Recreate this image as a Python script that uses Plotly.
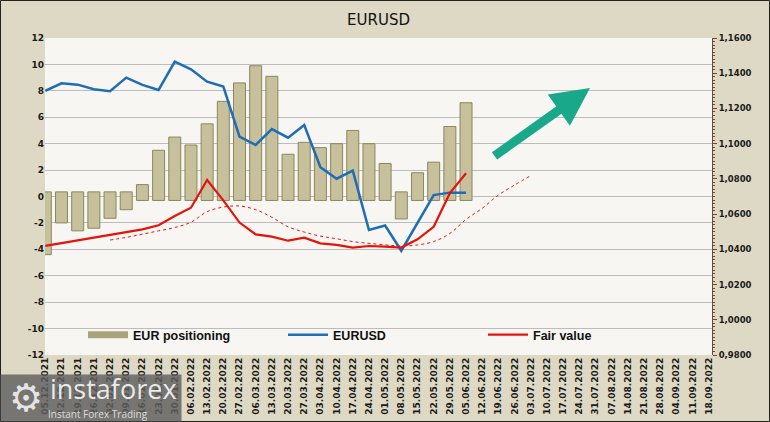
import plotly.graph_objects as go

dates = ["05.12.2021", "12.12.2021", "19.12.2021", "26.12.2021", "02.01.2022", "09.01.2022",
         "16.01.2022", "23.01.2022", "30.01.2022", "06.02.2022", "13.02.2022", "20.02.2022",
         "27.02.2022", "06.03.2022", "13.03.2022", "20.03.2022", "27.03.2022", "03.04.2022",
         "10.04.2022", "17.04.2022", "24.04.2022", "01.05.2022", "08.05.2022", "15.05.2022",
         "22.05.2022", "29.05.2022", "05.06.2022", "12.06.2022", "19.06.2022", "26.06.2022",
         "03.07.2022", "10.07.2022", "17.07.2022", "24.07.2022", "31.07.2022", "07.08.2022",
         "14.08.2022", "21.08.2022", "28.08.2022", "04.09.2022", "11.09.2022", "18.09.2022"]

eur_positioning = [-4.4, -2.0, -2.6, -2.4, -1.65, -1.0, 0.9, 3.5, 4.5, 3.9, 5.5, 7.2, 8.6,
                   9.9, 9.1, 3.2, 4.1, 3.7, 4.0, 5.0, 4.0, 2.5, -1.7, 1.8, 2.6, 5.3, 7.1]

eurusd = [1.1300, 1.1343, 1.1335, 1.1309, 1.1298, 1.1375, 1.1334, 1.1305, 1.1466, 1.1422,
          1.1352, 1.1324, 1.1040, 1.0993, 1.1083, 1.1034, 1.1106, 1.0866, 1.0801, 1.0847,
          1.0510, 1.0535, 1.0392, 1.0550, 1.0708, 1.0722, 1.0722]

fair_value = [1.0420, 1.0436, 1.0451, 1.0467, 1.0482, 1.0498, 1.0513, 1.0537, 1.0589, 1.0636,
              1.0794, 1.0678, 1.0552, 1.0485, 1.0472, 1.0449, 1.0466, 1.0434, 1.0425, 1.0410,
              1.0419, 1.0415, 1.0410, 1.0457, 1.0528, 1.0719, 1.0832]

fair_value_trend = [None, None, None, None,
                    1.0453, 1.0468, 1.0486, 1.0505, 1.0524, 1.0554, 1.0614, 1.0640, 1.0646,
                    1.0625, 1.0582, 1.0528, 1.0498, 1.0475, 1.0460, 1.0444, 1.0434, 1.0425,
                    1.0419, 1.0425, 1.0444, 1.0490, 1.0570, 1.0633, 1.0708, 1.0765, 1.0818]

left_ticks = list(range(-12, 13, 2))

# style constants
BAR_FILL = "#c7c19b"
BAR_EDGE = "#8b865f"
BLUE = "#1f6db5"
RED = "#e3140c"
TEAL = "#1aa88a"
CAP_POS, CAP_NEG = -0.3, 0.35  # 3D-bevel look: bars start slightly past zero

W, H = 770, 422
ML, MR, MT, MB = 45, 58, 38, 67
PW, PH = W - ML - MR, H - MT - MB


def px_x(x):
    return (x - ML) / PW


def px_y(y):
    return (H - MB - y) / PH


bases = [CAP_NEG if v < 0 else CAP_POS for v in eur_positioning]

fig = go.Figure()
fig.add_trace(go.Bar(
    x=dates[:len(eur_positioning)],
    y=[v - b for v, b in zip(eur_positioning, bases)],
    base=bases, width=0.74, name="EUR positioning", showlegend=False,
    marker=dict(color=BAR_FILL, line=dict(color=BAR_EDGE, width=1)),
))
# legend swatch for the bars (flat wide bar)
fig.add_trace(go.Scatter(x=[None], y=[None], mode="lines", name="EUR positioning",
                         line=dict(color="#a9a37c", width=7)))
fig.add_trace(go.Scatter(x=dates[:len(fair_value_trend)], y=fair_value_trend, yaxis="y2",
                         mode="lines", line=dict(color=RED, width=1, dash="dot", shape="spline"),
                         showlegend=False, connectgaps=False))
fig.add_trace(go.Scatter(x=dates[:len(eurusd)], y=eurusd, yaxis="y2", mode="lines",
                         name="EURUSD", line=dict(color=BLUE, width=2.5)))
fig.add_trace(go.Scatter(x=dates[:len(fair_value)], y=fair_value, yaxis="y2", mode="lines",
                         name="Fair value", line=dict(color=RED, width=2.2)))

tick_font = dict(family="DejaVu Sans", size=9, color="#1a1a1a", weight="bold")

fig.update_layout(
    width=W, height=H,
    margin=dict(l=ML, r=MR, t=MT, b=MB, autoexpand=False),
    paper_bgcolor="#ddd9c4",
    plot_bgcolor="#f7f6f2",
    separators=",.",
    title=dict(text="EURUSD", x=0.5, xref="paper", xanchor="center",
               y=1 - 19.5 / H, yref="container", yanchor="middle",
               font=dict(family="DejaVu Sans", size=15, color="#111111")),
    xaxis=dict(type="category", categoryorder="array", categoryarray=dates,
               range=[-0.02, 41.2], tickangle=-90, tickfont=tick_font,
               showgrid=False, zeroline=False, showline=False, ticks=""),
    yaxis=dict(range=[-12, 12], tickmode="array", tickvals=left_ticks,
               ticktext=[str(v) for v in left_ticks], tickfont=tick_font,
               showgrid=True, gridcolor="#bcbcbc", gridwidth=1, zeroline=False,
               showline=False, ticks=""),
    yaxis2=dict(overlaying="y", side="right", range=[0.98, 1.16], tickmode="linear",
                tick0=0.98, dtick=0.02, tickformat=".4f",
                tickfont=dict(family="DejaVu Sans", size=8.5, color="#1a1a1a", weight="bold"),
                showgrid=False, zeroline=False, showline=True, linecolor="#6b4a3a",
                linewidth=1, ticks="outside", ticklen=4, tickcolor="#6b4a3a",
                minor=dict(ticks="outside", ticklen=2, dtick=0.002, tickcolor="#6b4a3a")),
    legend=dict(orientation="h", x=0.057, xanchor="left",
                y=px_y(335), yanchor="middle",
                bgcolor="rgba(0,0,0,0)", itemwidth=40,
                entrywidth=145, entrywidthmode="pixels",
                font=dict(family="Liberation Sans", size=12.5, color="#111111", weight="bold")),
    showlegend=True,
)

# green arrow
fig.add_annotation(x=px_x(590), y=px_y(88), xref="paper", yref="paper",
                   ax=-97, ay=69, axref="pixel", ayref="pixel", text="", showarrow=True,
                   arrowhead=2, arrowsize=0.85, arrowwidth=9, arrowcolor=TEAL)

# outer frame
fig.add_shape(type="rect", xref="paper", yref="paper",
              x0=px_x(0.5), x1=px_x(W - 0.5), y0=px_y(H - 0.5), y1=px_y(0.5),
              line=dict(color="#222222", width=1), layer="above")

# watermark (box drawn as an annotation so the texts sit on top of it)
fig.add_annotation(x=px_x(0), y=px_y(422), xref="paper", yref="paper",
                   xanchor="left", yanchor="bottom", text="", showarrow=False,
                   width=180, height=46, bgcolor="rgba(95,95,95,0.82)", borderpad=0)
fig.add_annotation(x=px_x(26), y=px_y(398), xref="paper", yref="paper",
                   xanchor="center", yanchor="middle",
                   text="⚙", showarrow=False, font=dict(family="DejaVu Sans", size=38,
                   color="rgba(240,240,240,0.92)"))
fig.add_annotation(x=px_x(113), y=px_y(388), xref="paper", yref="paper",
                   xanchor="center", yanchor="middle", borderpad=0,
                   text="instaforex", showarrow=False,
                   font=dict(family="Open Sans", size=27, color="rgba(242,242,242,0.95)"))
fig.add_annotation(x=px_x(98), y=px_y(414), xref="paper", yref="paper",
                   xanchor="center", yanchor="middle", borderpad=0,
                   text="Instant Forex Trading", showarrow=False,
                   font=dict(family="Open Sans", size=10, color="rgba(228,228,228,0.95)"))

fig.write_html("out.html", config={"displayModeBar": False},
               post_script="document.body.style.margin='0';document.body.style.overflow='hidden';")
